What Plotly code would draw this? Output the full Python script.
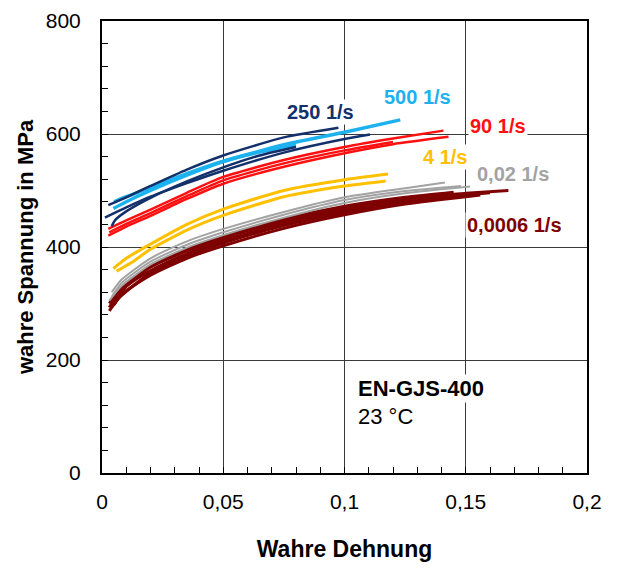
import plotly.graph_objects as go

# ---------------- data ----------------
# 250 1/s (navy)
n1_strain = [0.0026, 0.01, 0.02, 0.035, 0.05, 0.075, 0.0975]
n1_stress = [474, 488, 508, 537, 562, 594, 611]
n2_strain = [0.0012, 0.01, 0.02, 0.035, 0.05, 0.075, 0.1, 0.1105]
n2_stress = [452, 470, 489, 513, 535, 567, 591, 599]
n3_strain = [0.004, 0.0055, 0.01, 0.02, 0.035, 0.05, 0.065, 0.08]
n3_stress = [437, 448, 463, 487, 516, 541, 562, 577]

# 500 1/s (light blue)
lb1_strain = [0.0047, 0.01, 0.02, 0.035, 0.05, 0.075, 0.1, 0.123]
lb1_stress = [468, 480, 500, 527, 551, 581, 603, 625]
lb2_strain = [0.005, 0.01, 0.02, 0.035, 0.05, 0.065, 0.08]
lb2_stress = [480, 489, 505, 530, 552, 568, 580]

# 90 1/s (red)
r1_strain = [0.0026, 0.01, 0.02, 0.035, 0.05, 0.075, 0.1, 0.12, 0.1408]
r1_stress = [432, 447, 466, 496, 524, 554, 577, 592, 606]
r2_strain = [0.0026, 0.01, 0.02, 0.035, 0.05, 0.075, 0.1, 0.12, 0.1429]
r2_stress = [420, 436, 455, 485, 512, 542, 566, 582, 595]
r3_strain = [0.003, 0.01, 0.02, 0.035, 0.05, 0.075, 0.1, 0.12]
r3_stress = [426, 441, 460, 490, 518, 548, 571, 586]

# 4 1/s (yellow)
y1_strain = [0.0047, 0.007, 0.01, 0.02, 0.035, 0.05, 0.075, 0.1, 0.118]
y1_stress = [362, 370, 380, 405, 440, 467, 500, 519, 529]
y2_strain = [0.006, 0.008, 0.012, 0.02, 0.035, 0.05, 0.075, 0.1, 0.117]
y2_stress = [357, 362, 372, 396, 430, 456, 489, 508, 517]

# 0,02 1/s (gray)
g1_strain = [0.004, 0.008, 0.02, 0.035, 0.05, 0.075, 0.1, 0.125, 0.1414]
g1_stress = [320, 342, 380, 410, 432, 462, 488, 504, 514]
g2_strain = [0.003, 0.008, 0.02, 0.035, 0.05, 0.075, 0.1, 0.125, 0.1518]
g2_stress = [305, 331, 369, 399, 421, 452, 478, 495, 507]
g3_strain = [0.004, 0.008, 0.02, 0.035, 0.05, 0.075, 0.1, 0.125, 0.148]
g3_stress = [312, 336, 374, 404, 426, 457, 483, 499, 508]

# 0,0006 1/s (dark red)
d1_strain = [0.003, 0.0075, 0.02, 0.035, 0.05, 0.075, 0.1, 0.125, 0.15, 0.1676]
d1_stress = [293, 322, 364, 393, 416, 446, 469, 486, 495, 500]
d2_strain = [0.003, 0.0075, 0.02, 0.035, 0.05, 0.075, 0.1, 0.125, 0.148]
d2_stress = [287, 312, 354, 384, 407, 438, 461, 478, 490]
d3_strain = [0.004, 0.008, 0.02, 0.035, 0.05, 0.075, 0.1, 0.125, 0.156]
d3_stress = [294, 316, 350, 380, 402, 433, 457, 476, 492]
d4_strain = [0.003, 0.008, 0.02, 0.035, 0.05, 0.075, 0.1, 0.125, 0.145]
d4_stress = [300, 327, 367, 396, 419, 449, 472, 488, 497]
d5_strain = [0.005, 0.01, 0.02, 0.035, 0.05, 0.075, 0.1, 0.125, 0.16]
d5_stress = [298, 330, 358, 388, 411, 442, 465, 482, 496]

x_ticks = [0, 0.05, 0.1, 0.15, 0.2]
x_tick_text = ["0", "0,05", "0,1", "0,15", "0,2"]
y_ticks = [0, 200, 400, 600, 800]
y_tick_text = ["0", "200", "400", "600", "800"]

rate_labels = ["250 1/s", "500 1/s", "90 1/s", "4 1/s", "0,02 1/s", "0,0006 1/s"]
label_x = [0.0903, 0.1299, 0.1635, 0.1414, 0.1695, 0.1701]
label_y = [639, 665, 614, 559, 529, 439]

NAVY = "#13306B"
LBLUE = "#1CB2EE"
RED = "#FF1010"
YELLOW = "#FFC000"
GRAY = "#A3A3A3"
DRED = "#7E0000"
label_colors = [NAVY, LBLUE, RED, YELLOW, GRAY, DRED]

FONT = "Arial, 'Liberation Sans', sans-serif"

fig = go.Figure()

def add(xs, ys, color, width):
    fig.add_trace(go.Scatter(x=xs, y=ys, mode="lines",
                             line=dict(color=color, width=width, shape="spline", smoothing=0.6),
                             showlegend=False, hoverinfo="skip"))

for xs, ys in [(d1_strain, d1_stress), (d2_strain, d2_stress), (d3_strain, d3_stress),
               (d4_strain, d4_stress), (d5_strain, d5_stress)]:
    add(xs, ys, DRED, 3)
for xs, ys in [(g1_strain, g1_stress), (g2_strain, g2_stress), (g3_strain, g3_stress)]:
    add(xs, ys, GRAY, 2)
for xs, ys in [(y1_strain, y1_stress), (y2_strain, y2_stress)]:
    add(xs, ys, YELLOW, 3)
for xs, ys in [(r1_strain, r1_stress), (r2_strain, r2_stress), (r3_strain, r3_stress)]:
    add(xs, ys, RED, 2.5)
for xs, ys in [(lb1_strain, lb1_stress), (lb2_strain, lb2_stress)]:
    add(xs, ys, LBLUE, 3.5)
for xs, ys in [(n1_strain, n1_stress), (n2_strain, n2_stress), (n3_strain, n3_stress)]:
    add(xs, ys, NAVY, 2.5)

for txt, lx, ly, c in zip(rate_labels, label_x, label_y, label_colors):
    fig.add_annotation(x=lx, y=ly, xref="x", yref="y", text=f"<b>{txt}</b>",
                       showarrow=False, bgcolor="white", borderpad=1,
                       font=dict(family=FONT, size=20, color=c))

fig.add_annotation(x=0.1048, y=149, xref="x", yref="y", text="<b>EN-GJS-400</b>",
                   xanchor="left", showarrow=False, bgcolor="white",
                   font=dict(family=FONT, size=22, color="black"))
fig.add_annotation(x=0.1048, y=100, xref="x", yref="y", text="23 °C",
                   xanchor="left", showarrow=False, bgcolor="white",
                   font=dict(family=FONT, size=22, color="black"))

# The page body has an 8px margin, so the plot area is placed 8px up/left.
fig.update_layout(
    width=617, height=569,
    margin=dict(l=94, r=38, t=13, b=104),
    paper_bgcolor="white", plot_bgcolor="white",
    font=dict(family=FONT, size=21, color="black"),
)
fig.update_xaxes(
    range=[0, 0.2], tickvals=x_ticks, ticktext=x_tick_text, automargin=False,
    showgrid=True, gridcolor="#3A3A3A", gridwidth=1,
    showline=True, linecolor="black", linewidth=2, mirror=True,
    ticks="inside", ticklen=6, tickcolor="black", tickwidth=1,
    minor=dict(dtick=0.01, ticks="inside", ticklen=6, tickcolor="black", showgrid=False),
    zeroline=False, ticklabelstandoff=9,
    title=dict(text="<b>Wahre Dehnung</b>", font=dict(size=23), standoff=29),
)
fig.update_yaxes(
    range=[0, 800], tickvals=y_ticks, ticktext=y_tick_text, automargin=False,
    showgrid=True, gridcolor="#3A3A3A", gridwidth=1,
    showline=True, linecolor="black", linewidth=2, mirror=True,
    ticks="inside", ticklen=6, tickcolor="black", tickwidth=1,
    minor=dict(dtick=40, ticks="inside", ticklen=6, tickcolor="black", showgrid=False),
    zeroline=False, ticklabelstandoff=15,
    title=dict(text="<b>wahre Spannung in MPa</b>", font=dict(size=22), standoff=6),
)

fig.write_html("out.html")
